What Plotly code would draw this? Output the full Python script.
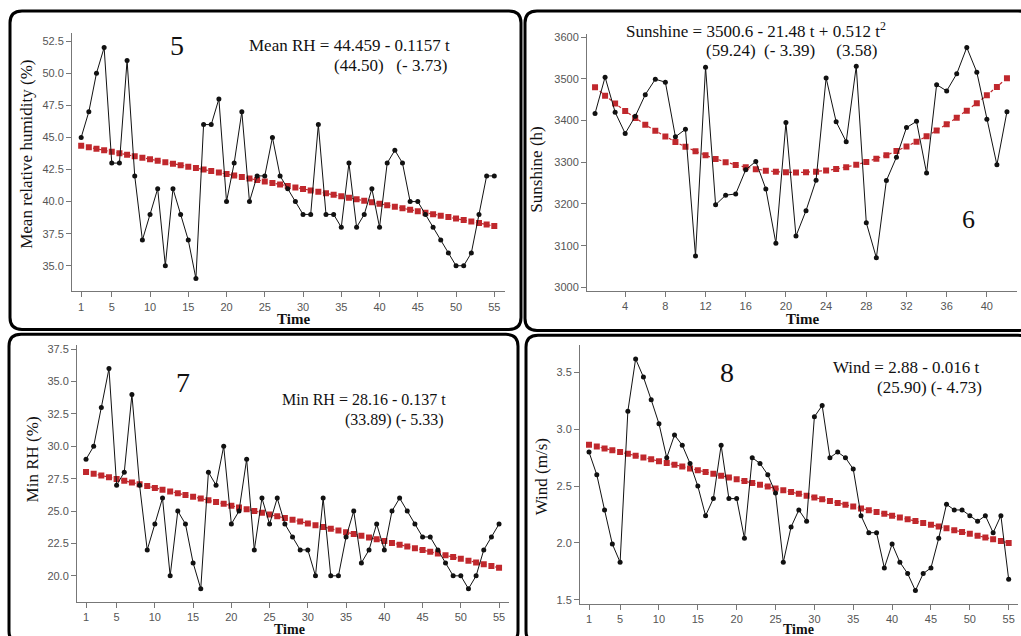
import plotly.graph_objects as go

W, H = 1021, 636

# ---------------- data ----------------
t55 = list(range(1, 56))
t42 = list(range(1, 43))

mean_rh = [45, 47, 50, 52, 43, 43, 51, 42, 37, 39, 41, 35, 41, 39, 37, 34, 46, 46, 48, 40,
           43, 47, 40, 42, 42, 45, 42, 41, 40, 39, 39, 46, 39, 39, 38, 43, 38, 39, 41, 38,
           43, 44, 43, 40, 40, 39, 38, 37, 36, 35, 35, 36, 39, 42, 42]

sunshine = [3417, 3504, 3420, 3369, 3410, 3462, 3499, 3492, 3361, 3379, 3075, 3528, 3198, 3221,
            3224, 3282, 3302, 3236, 3106, 3395, 3123, 3184, 3257, 3502, 3397, 3349, 3530, 3155,
            3071, 3256, 3312, 3383, 3398, 3274, 3486, 3471, 3512, 3575, 3516, 3403, 3294, 3421]

min_rh = [29, 30, 33, 36, 27, 28, 34, 27, 22, 24, 26, 20, 25, 24, 21, 19, 28, 27, 30, 24,
          25, 29, 22, 26, 24, 26, 24, 23, 22, 22, 20, 26, 20, 20, 23, 25, 21, 22, 24, 22,
          25, 26, 25, 24, 23, 23, 22, 21, 20, 20, 19, 20, 22, 23, 24]

wind = [2.80, 2.60, 2.29, 1.99, 1.83, 3.16, 3.62, 3.46, 3.26, 3.05, 2.75, 2.95, 2.86, 2.70,
        2.50, 2.24, 2.39, 2.86, 2.39, 2.39, 2.04, 2.75, 2.70, 2.60, 2.44, 1.83, 2.14, 2.29,
        2.19, 3.11, 3.21, 2.75, 2.80, 2.75, 2.65, 2.24, 2.09, 2.09, 1.78, 1.99, 1.83, 1.73,
        1.58, 1.73, 1.78, 2.04, 2.34, 2.29, 2.29, 2.24, 2.19, 2.24, 2.09, 2.24, 1.68]

# fitted trend coefficients (from the equations printed on the chart)
mean_rh_coef = (44.459, -0.1157)
sunshine_coef = (3500.6, -21.48, 0.512)
min_rh_coef = (28.16, -0.137)
wind_coef = (2.88, -0.016)

mean_rh_fit = [mean_rh_coef[0] + mean_rh_coef[1] * t for t in t55]
sunshine_fit = [sunshine_coef[0] + sunshine_coef[1] * t + sunshine_coef[2] * t * t for t in t42]
min_rh_fit = [min_rh_coef[0] + min_rh_coef[1] * t for t in t55]
wind_fit = [wind_coef[0] + wind_coef[1] * t for t in t55]

ticks55 = [1, 5, 10, 15, 20, 25, 30, 35, 40, 45, 50, 55]
ticks42 = [4, 8, 12, 16, 20, 24, 28, 32, 36, 40]

# ---------------- helpers ----------------
def px(x):
    return x / W

def py(y):
    return 1 - y / H

SERIF = "Liberation Serif, Times New Roman, serif"
SANS = "Liberation Sans, Arial, sans-serif"
DATA_COLOR = "#111111"
FIT_COLOR = "#c0282d"

fig = go.Figure()

panels = [
    # (x, y, fit, suffix, xdom px, ydom px, xrange, yrange, xticks, yticks, yfmt)
    (t55, mean_rh, mean_rh_fit, "", (72, 505), (30.7, 290.7), (-0.2, 56.4), (33.0, 53.1),
     ticks55, [35, 37.5, 40, 42.5, 45, 47.5, 50, 52.5], ".1f"),
    (t42, sunshine, sunshine_fit, "2", (587, 1017), (31, 290), (0.2, 43.0), (2992, 3608),
     ticks42, [3000, 3100, 3200, 3300, 3400, 3500, 3600], "d"),
    (t55, min_rh, min_rh_fit, "3", (77, 509), (345, 604), (-0.18, 56.3), (17.96, 37.8),
     ticks55, [20, 22.5, 25, 27.5, 30, 32.5, 35, 37.5], ".1f"),
    (t55, wind, wind_fit, "4", (580, 1018), (345, 606), (-0.16, 56.2), (1.46, 3.74),
     ticks55, [1.5, 2.0, 2.5, 3.0, 3.5], ".1f"),
]

layout_axes = {}
for (xs, ys, fit, sfx, xd, yd, xr, yr, xt, yt, yfmt) in panels:
    fig.add_trace(go.Scatter(
        x=xs, y=fit, mode="lines+markers", xaxis="x" + sfx, yaxis="y" + sfx,
        line=dict(color=FIT_COLOR, width=1.2, dash="dot"),
        marker=dict(symbol="square", size=6, color=FIT_COLOR),
        showlegend=False, hoverinfo="skip"))
    fig.add_trace(go.Scatter(
        x=xs, y=ys, mode="lines+markers", xaxis="x" + sfx, yaxis="y" + sfx,
        line=dict(color=DATA_COLOR, width=1),
        marker=dict(symbol="circle", size=5, color=DATA_COLOR),
        showlegend=False))
    common = dict(showgrid=False, zeroline=False, showline=True, linecolor="#777777",
                  linewidth=1, ticks="outside", ticklen=5, tickcolor="#777777",
                  tickfont=dict(family=SANS, size=11, color="#555555"))
    layout_axes["xaxis" + sfx] = dict(domain=[px(xd[0]), px(xd[1])], range=list(xr),
                                      anchor="y" + sfx, tickvals=xt, **common)
    layout_axes["yaxis" + sfx] = dict(domain=[py(yd[1]), py(yd[0])], range=list(yr),
                                      anchor="x" + sfx, tickvals=yt, tickformat=yfmt, **common)

fig.update_layout(**layout_axes)

# ---------------- panel frames (rounded) ----------------
def rounded(x0, y0, x1, y1, r=12):
    X0, X1 = px(x0), px(x1)
    Y0, Y1 = py(y0), py(y1)
    rx, ry = r / W, r / H
    return (f"M {X0+rx},{Y0} L {X1-rx},{Y0} Q {X1},{Y0} {X1},{Y0-ry} "
            f"L {X1},{Y1+ry} Q {X1},{Y1} {X1-rx},{Y1} "
            f"L {X0+rx},{Y1} Q {X0},{Y1} {X0},{Y1+ry} "
            f"L {X0},{Y0-ry} Q {X0},{Y0} {X0+rx},{Y0} Z")

frames = [(10, 8, 521, 329), (525, 8, 1030, 330), (9, 334, 518, 645), (526, 335, 1030, 645)]
shapes = [dict(type="path", xref="paper", yref="paper", path=rounded(*f),
               line=dict(color="black", width=3), fillcolor="rgba(0,0,0,0)") for f in frames]
fig.update_layout(shapes=shapes)

# ---------------- texts ----------------
ann = []

def text(x, y, s, size=15, xanchor="center", family=SERIF, angle=0, color="#111111"):
    ann.append(dict(x=px(x), y=py(y), xref="paper", yref="paper", text=s, showarrow=False,
                    xanchor=xanchor, yanchor="middle", textangle=angle,
                    font=dict(family=family, size=size, color=color)))

NB = "\u00a0"
# panel numbers
text(177, 43, "5", size=28)
text(968, 218, "6", size=26)
text(183, 383, "7", size=28)
text(727, 372, "8", size=28)

# equations
text(452, 43, "Mean RH = 44.459 - 0.1157 t", size=17, xanchor="right")
text(449, 63, f"(44.50){NB*3}(- 3.73)", size=17, xanchor="right")
text(888, 27, "Sunshine = 3500.6 - 21.48 t + 0.512 t<sup>2</sup>", size=17, xanchor="right")
text(879, 48, f"(59.24){NB*2}(- 3.39){NB*5}(3.58)", size=17, xanchor="right")
text(448, 400, "Min RH = 28.16 - 0.137 t", size=16, xanchor="right")
text(446, 420, "(33.89) (- 5.33)", size=16, xanchor="right")
text(982, 367, "Wind = 2.88 - 0.016 t", size=17, xanchor="right")
text(984, 388, "(25.90) (- 4.73)", size=17, xanchor="right")

# axis titles
text(293, 319, "<b>Time</b>", size=15)
text(802, 319, "<b>Time</b>", size=15)
text(289, 631, "<b>Time</b>", size=14)
text(798, 631, "<b>Time</b>", size=14)
text(27, 153, "Mean relative humidity (%)", size=17, angle=-90)
text(537, 168, "Sunshine (h)", size=17, angle=-90)
text(32, 460, "Min RH (%)", size=17, angle=-90)
text(541, 478, "Wind (m/s)", size=17, angle=-90)

fig.update_layout(annotations=ann, width=W, height=H,
                  margin=dict(l=0, r=0, t=0, b=0),
                  paper_bgcolor="white", plot_bgcolor="white")

fig.write_html("out.html", config={"displayModeBar": False},
               post_script="document.body.style.margin='0';document.body.style.overflow='hidden';")
